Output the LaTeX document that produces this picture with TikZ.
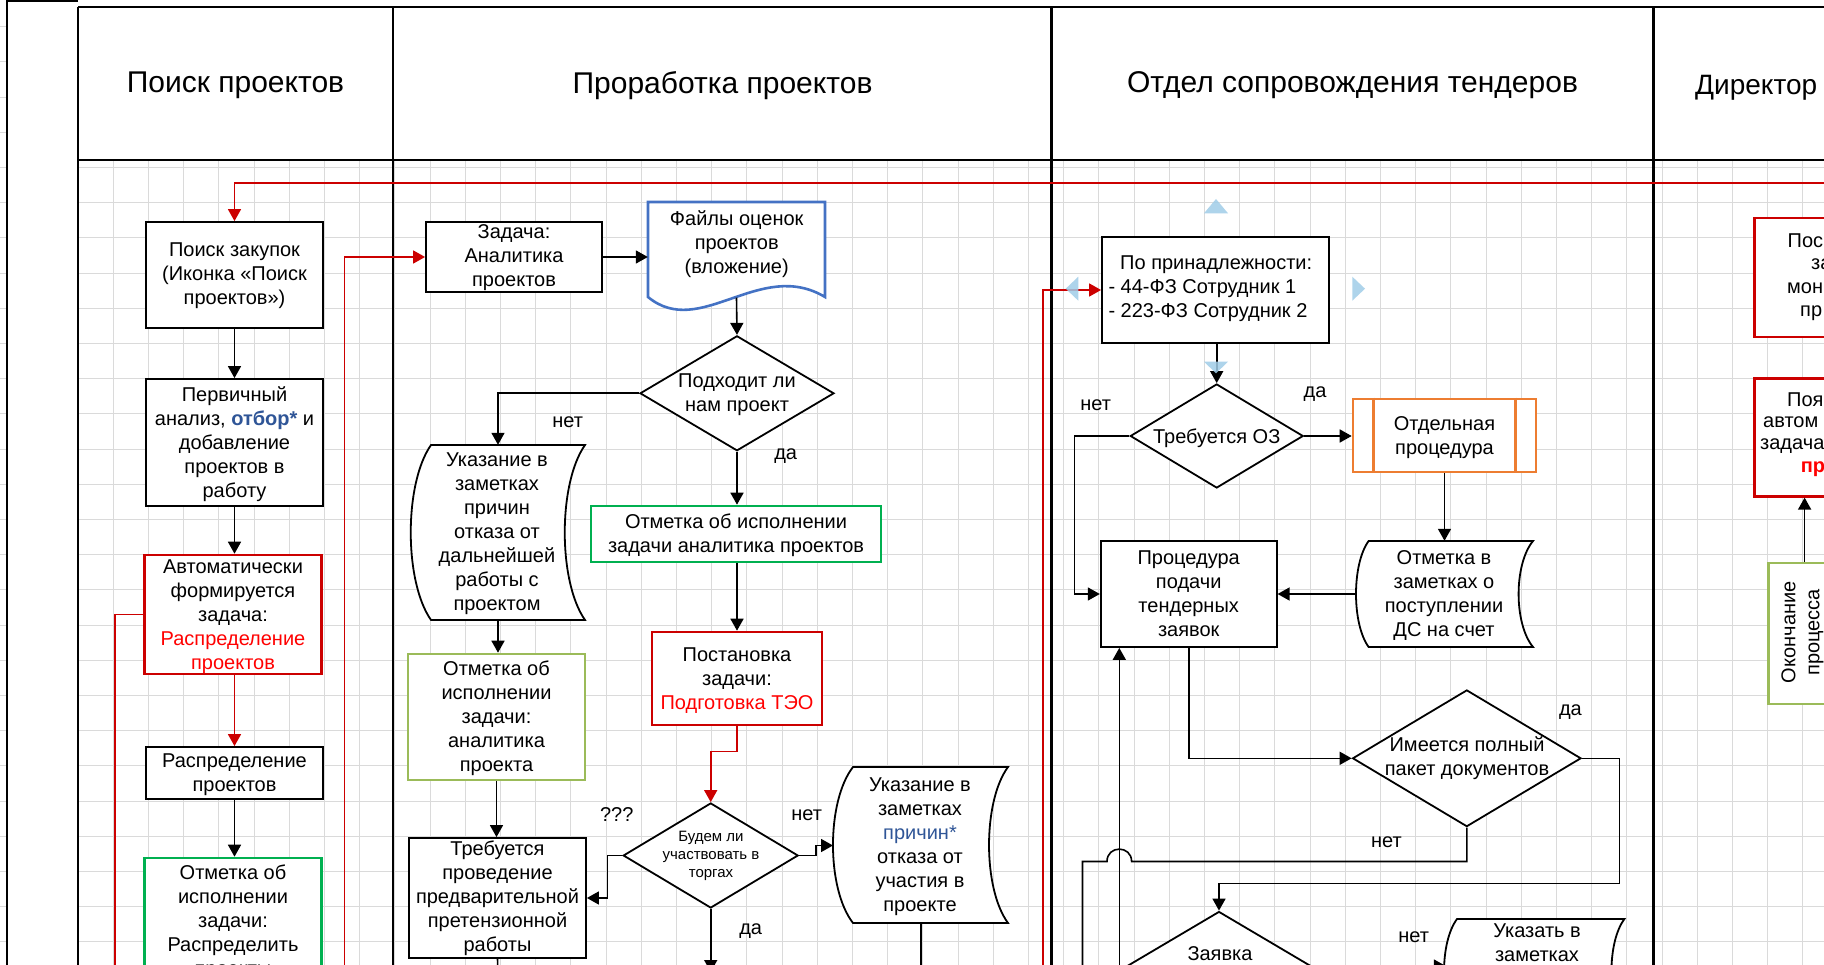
\documentclass[tikz,border=0pt]{standalone}
\usepackage{fontspec}
\setmainfont{Liberation Sans}
\usetikzlibrary{arrows.meta,shapes.geometric,calc}
\definecolor{redline}{RGB}{204,0,0}
\definecolor{redtxt}{RGB}{255,0,0}
\definecolor{greenb}{RGB}{0,176,80}
\definecolor{lgreen}{RGB}{155,187,89}
\definecolor{blueb}{RGB}{68,114,196}
\definecolor{bluetxt}{RGB}{47,85,151}
\definecolor{orangeb}{RGB}{237,125,49}
\definecolor{gridc}{RGB}{218,218,218}
\definecolor{handlec}{RGB}{160,205,232}
\tikzset{
  xlbl/.style={font=\fontsize{20}{24}\selectfont, inner sep=0pt, align=center},
  xsmall/.style={font=\fontsize{15}{18}\selectfont, inner sep=0pt, align=center},
  xhdr/.style={font=\fontsize{30}{36}\selectfont, inner sep=0pt},
  xbox/.style={draw=black, fill=white, line width=1.8pt, inner sep=0pt, align=center, font=\fontsize{20}{24}\selectfont},
  xredbox/.style={xbox, draw=redline, line width=2.6pt},
  xgreenbox/.style={xbox, draw=greenb, line width=2.6pt},
  xlgreenbox/.style={xbox, draw=lgreen, line width=2.6pt},
  xorangebox/.style={xbox, draw=orangeb, line width=2.6pt},
  xdia/.style={diamond, draw=black, fill=white, line width=1.8pt, inner sep=0pt},
  xghost/.style={inner sep=0pt, draw=none},
  xshp/.style={draw=black, fill=white, line width=1.8pt},
  xconn/.style={line width=1.6pt, -{Triangle[length=12pt,width=13pt]}},
  xplain/.style={line width=1.6pt},
  xrconn/.style={xconn, redline},
  xrplain/.style={xplain, redline},
  xpool/.style={line width=2.6pt, draw=black},
  xhandle/.style={fill=handlec, draw=none, opacity=0.85},
}
\begin{document}
\begin{tikzpicture}[x=1pt,y=-1pt]
\useasboundingbox (0,0) rectangle (1824,965);
\clip (0,0) rectangle (1824,965);
\fill[white] (0,0) rectangle (1824,965);
% grid
\foreach \i in {0,...,49} { \draw[gridc, line width=1pt] ({78+35.2*\i},160) -- ({78+35.2*\i},965); }
\foreach \j in {0,...,22} { \draw[gridc, line width=1pt] (78,{167.5+35.2*\j}) -- (1824,{167.5+35.2*\j}); }
\foreach \j in {0,...,26} { \draw[gridc, line width=1pt] (0,{26.7+35.2*\j}) -- (6,{26.7+35.2*\j}); }
% pool
\fill[white] (78,7) rectangle (1830,160);
\draw[line width=2pt] (7.3,0) -- (7.3,965);
\draw[line width=2pt] (7.3,1.5) -- (78,1.5);
\draw[xpool] (78,7) -- (1830,7);
\draw[xpool] (78,160) -- (1830,160);
\draw[xpool] (78,7) -- (78,975);
\draw[xpool] (393,7) -- (393,975);
\draw[xpool] (1051.5,7) -- (1051.5,975);
\draw[xpool] (1653.3,7) -- (1653.3,975);
\node[xhdr] (h1) at (235.5,85.5) {Поиск проектов};
\node[xhdr] (h2) at (722.5,85.5) {Проработка проектов};
\node[xhdr] (h3) at (1352.5,85.5) {Отдел сопровождения тендеров};
\node[xhdr, anchor=west, font=\fontsize{28}{34}\selectfont] (h4) at (1695,88) {Директор};

% ---------- lane 1
\node[xbox, minimum width=177pt, minimum height=106pt] (n1) at (234.5,275) {};
\node[xlbl] (n1t) at (234.5,276) {Поиск закупок\\(Иконка «Поиск\\проектов»)};
\node[xbox, minimum width=177pt, minimum height=127pt] (n2) at (234.5,442.5) {};
\node[xlbl] (n2t) at (234.5,444.5) {Первичный\\анализ, {\color{bluetxt}\bfseries отбор*} и\\добавление\\проектов в\\работу};
\node[xredbox, minimum width=177pt, minimum height=119pt] (n3) at (233,614.5) {};
\node[xlbl] (n3t) at (233,617) {Автоматически\\формируется\\задача:\\{\color{redtxt}Распределение}\\{\color{redtxt}проектов}};
\node[xbox, minimum width=177pt, minimum height=52pt] (n4) at (234.5,773) {};
\node[xlbl] (n4t) at (234.5,775) {Распределение\\проектов};
\node[xgreenbox, minimum width=177pt, minimum height=124pt] (n5) at (233,920) {};
\node[xlbl] (n5t) at (233,922.5) {Отметка об\\исполнении\\задачи:\\Распределить\\проекты};

% ---------- lane 2
\node[xbox, minimum width=176pt, minimum height=70pt] (n6) at (514,257) {};
\node[xlbl] (n6t) at (514,258) {Задача:\\Аналитика\\проектов};
\node[xghost, minimum width=177pt, minimum height=96pt] (n7) at (736.5,249.5) {};
\draw[draw=blueb, fill=white, line width=2.6pt] (648,202) -- (825,202) -- (825,297) .. controls (760,258) and (700,340) .. (648,297) -- cycle;
\node[xlbl] (n7t) at (736.7,244.5) {Файлы оценок\\проектов\\(вложение)};
\node[xdia, minimum width=194pt, minimum height=115pt] (d1) at (737,393.3) {};
\node[xlbl] (d1t) at (737,394.5) {Подходит ли\\нам проект};
\node[xghost, minimum width=150pt, minimum height=175pt] (n8) at (498,532.5) {};
\draw[xshp] (431,445) -- (585,445) .. controls (558,483.5) and (558,581.5) .. (585,620) -- (431,620) .. controls (404,581.5) and (404,483.5) .. (431,445) -- cycle;
\node[xlbl] (n8t) at (497,533.5) {Указание в\\заметках\\причин\\отказа от\\дальнейшей\\работы с\\проектом};
\node[xlgreenbox, minimum width=177pt, minimum height=126pt] (n9) at (496.5,717) {};
\node[xlbl] (n9t) at (496.5,718.5) {Отметка об\\исполнении\\задачи:\\аналитика\\проекта};
\node[xbox, minimum width=177pt, minimum height=120pt] (n10) at (497.5,898) {};
\node[xlbl] (n10t) at (497.5,898.5) {Требуется\\проведение\\предварительной\\претензионной\\работы};
\node[xgreenbox, minimum width=290pt, minimum height=56pt] (n11) at (736,534) {};
\node[xlbl] (n11t) at (736,535) {Отметка об исполнении\\задачи аналитика проектов};
\node[xredbox, minimum width=170pt, minimum height=93pt] (n12) at (737,678.5) {};
\node[xlbl] (n12t) at (737,681) {Постановка\\задачи:\\{\color{redtxt}Подготовка ТЭО}};
\node[xdia, minimum width=175pt, minimum height=105pt] (d2) at (710.7,855.5) {};
\node[xsmall] (d2t) at (711,856) {Будем ли\\участвовать в\\торгах};
\node[xghost, minimum width=175pt, minimum height=155pt] (n13) at (920.7,845.5) {};
\draw[xshp] (853,767) -- (1008,767) .. controls (982.7,801.3) and (982.7,888.7) .. (1008,923) -- (853,923) .. controls (826.3,888.7) and (826.3,801.3) .. (853,767) -- cycle;
\node[xlbl] (n13t) at (920,846.5) {Указание в\\заметках\\{\color{bluetxt}причин*}\\отказа от\\участия в\\проекте};

% ---------- lane 3
\node[xbox, minimum width=227pt, minimum height=106pt] (n14) at (1215.5,290) {};
\node[xlbl, align=left, anchor=west] (n14t) at (1108.3,289) {\hspace*{11.7pt}По принадлежности:\\- 44-ФЗ Сотрудник 1\\- 223-ФЗ Сотрудник 2};
\node[xdia, minimum width=173pt, minimum height=104pt] (d3) at (1216.7,436) {};
\node[xlbl] (d3t) at (1216.7,438) {Требуется ОЗ};
\node[xorangebox, minimum width=183pt, minimum height=73pt] (n15) at (1444.5,435.5) {};
\node[xlbl] (n15t) at (1444.5,438) {Отдельная\\процедура};
\draw[orangeb, line width=2.6pt] ($(n15.north west)+(22,0)$) -- ($(n15.south west)+(22,0)$);
\draw[orangeb, line width=2.6pt] ($(n15.north east)+(-22,0)$) -- ($(n15.south east)+(-22,0)$);
\node[xbox, minimum width=176pt, minimum height=106pt] (n16) at (1188.7,594) {};
\node[xlbl] (n16t) at (1188.7,594) {Процедура\\подачи\\тендерных\\заявок};
\node[xghost, minimum width=176pt, minimum height=106pt] (n17) at (1444,594) {};
\draw[xshp] (1368.6,541) -- (1533,541) .. controls (1513.8,564.3) and (1513.8,623.7) .. (1533,647) -- (1368.6,647) .. controls (1351.8,623.7) and (1351.8,564.3) .. (1368.6,541) -- cycle;
\node[xlbl] (n17t) at (1444,595.5) {Отметка в\\заметках о\\поступлении\\ДС на счет};
\node[xdia, minimum width=228.5pt, minimum height=136.7pt] (d4) at (1466.8,758.3) {};
\node[xlbl] (d4t) at (1467,758.5) {Имеется полный\\пакет документов};
\node[xdia, minimum width=184pt, minimum height=109pt] (d5) at (1219,966) {};
\node[xlbl] (d5t) at (1220,953.7) {Заявка};
\node[xghost, minimum width=188pt, minimum height=105pt] (n18) at (1540,971.5) {};
\draw[xshp] (1457,919) -- (1624.4,919) .. controls (1607.1,942.1) and (1607.1,1000.9) .. (1624.4,1024) -- (1457,1024) .. controls (1439.7,1000.9) and (1439.7,942.1) .. (1457,919) -- cycle;
\node[xlbl] (n18t) at (1537,943) {Указать в\\заметках};

% ---------- lane 4
\node[xredbox, anchor=north west, minimum width=180pt, minimum height=119pt] (n19) at (1753.3,216.7) {};
\node[xlbl, anchor=west] (f1) at (1787.5,241) {Пос};
\node[xlbl, anchor=west] (f2) at (1811,264.3) {за};
\node[xlbl, anchor=west] (f3) at (1787,288) {мон};
\node[xlbl, anchor=west] (f4) at (1800,313) {пр};
\node[xredbox, anchor=north west, minimum width=180pt, minimum height=118pt] (n20) at (1753.3,377) {};
\node[xlbl, anchor=west] (g1) at (1787,399.3) {Поя};
\node[xlbl, anchor=west] (g2) at (1763,422.7) {автом};
\node[xlbl, anchor=west] (g3) at (1760,446) {задача};
\node[xlbl, anchor=west] (g4) at (1800.7,469.3) {\color{redtxt}\bfseries пр};
\node[xlgreenbox, anchor=north west, minimum width=72pt, minimum height=141pt] (n21) at (1767.3,561.7) {};
\node[xlbl, rotate=90] (n21t) at (1802.5,632.3) {Окончание\\процесса};

% ---------- labels
\node[xlbl] (l1) at (567.7,422) {нет};
\node[xlbl] (l2) at (785.7,456) {да};
\node[xlbl] (l3) at (616.7,814.3) {???};
\node[xlbl] (l4) at (806.7,815.3) {нет};
\node[xlbl] (l5) at (750.7,931) {да};
\node[xlbl] (l6) at (1095.7,405.3) {нет};
\node[xlbl] (l7) at (1315,394.3) {да};
\node[xlbl] (l8) at (1570.4,711.7) {да};
\node[xlbl] (l9) at (1386.4,842.7) {нет};
\node[xlbl] (l10) at (1413.7,937.7) {нет};

% ---------- connectors lane 1
\coordinate (rt) at (1830,183);
\coordinate (rb1) at (344.3,975);
\coordinate (rb2) at (115,975);
\draw[xconn] (n1.south) -- (n2.north);
\draw[xconn] (n2.south) -- (n2.south |- n3.north);
\draw[xrconn] (n4.north |- n3.south) -- (n4.north);
\draw[xconn] (n4.south) -- (n4.south |- n5.north);
\draw[xrconn] (rt) -| (n1.north);
\draw[xrconn] (rb1) |- (n6.west);
\draw[xrplain] (n3.west) -| (rb2);

% ---------- connectors lane 2
\coordinate (b1) at (710.7,972);
\coordinate (b2) at (498,975);
\coordinate (b3) at (920.7,975);
\draw[xconn] (n6.east) -- (n6.east -| n7.west);
\draw[xconn] (n7.south) -- (d1.north);
\draw[xconn] (d1.west) -| (n8.north);
\draw[xconn] (d1.south) -- (d1.south |- n11.north);
\draw[xconn] (n8.south) -- (n8.south |- n9.north);
\draw[xconn] (n9.south) -- (n9.south |- n10.north);
\draw[xconn] (n12.north |- n11.south) -- (n12.north);
\draw[xrconn] (n12.south) -- ++(0,25) -| (d2.north);
\draw[xconn] (d2.west) -- ++(-15,0) |- (n10.east);
\draw[xconn] (d2.east) -- ++(17,0) |- (n13.west);
\draw[xconn] (d2.south) -- (b1);
\draw[xplain] (n10.south) -- (b2);
\draw[xplain] (n13.south) -- (b3);

% ---------- connectors lane 3
\coordinate (rb3) at (1043,975);
\coordinate (b4) at (1082.5,975);
\coordinate (b5) at (1119.3,975);
\coordinate (j1) at (1131.6,861.5);
\coordinate (j2) at (1107,861.5);
\draw[xrconn] (rb3) |- (n14.west);
\draw[xconn] (d3.north |- n14.south) -- (d3.north);
\draw[xconn] (d3.west) -- ++(-55,0) |- (n16.west);
\draw[xconn] (d3.east) -- (d3.east -| n15.west);
\draw[xconn] (n15.south) -- (n15.south |- n17.north);
\draw[xconn] (n17.west) -- (n17.west -| n16.east);
\draw[xconn] (n16.south) |- (d4.west);
\draw[xconn] (d4.east) -- ++(37.5,0) -- ++(0,125.2) -| (d5.north);
\draw[xplain] (d4.south) |- (j1) .. controls ($(j1)+(0,-16.5)$) and ($(j2)+(0,-16.5)$) .. (j2) -| (b4);
\draw[xconn] (b5) -- (b5 |- n16.south);
\draw[xconn] (d5.east) -- (d5.east -| n18.west);

% ---------- connectors lane 4
\draw[xconn] (n21.north) -- (n21.north |- n20.south);

% ---------- handles
\fill[xhandle] (1204,213.3) -- (1228,213.3) -- (1216,199) -- cycle;
\fill[xhandle] (1078.3,276.7) -- (1078.3,300.7) -- (1065.7,288.7) -- cycle;
\fill[xhandle] (1352.3,276.7) -- (1352.3,300.7) -- (1365,288.7) -- cycle;
\fill[xhandle] (1204,361.7) -- (1228,361.7) -- (1216,373.3) -- cycle;
\end{tikzpicture}
\end{document}
